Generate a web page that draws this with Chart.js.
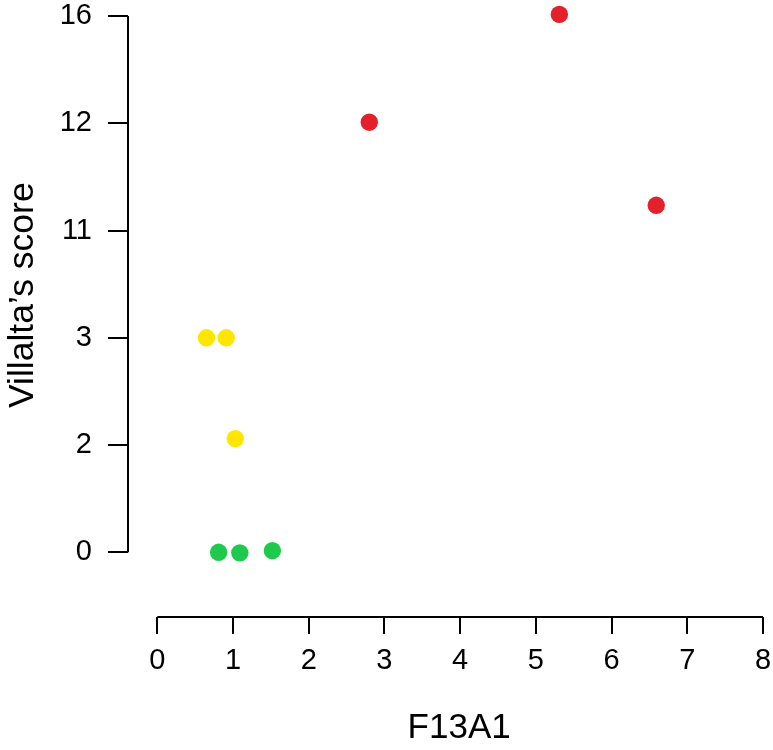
<!DOCTYPE html>
<html>
<head>
<meta charset="utf-8">
<script src="https://cdn.jsdelivr.net/npm/chart.js@4/dist/chart.umd.min.js"></script>
<style>
  body { margin: 0; background: #fff; }
  #wrap { width: 773px; height: 750px; }
</style>
</head>
<body>
<div id="wrap"><canvas id="myChart"></canvas></div>
<script>
'use strict';
// ---------- Data ------------- //
// y axis is ordinal: the score labels sit at equal steps (position 0..5)
let yTickLabels = ['0', '2', '3', '11', '12', '16'];
let xTicks = [0, 1, 2, 3, 4, 5, 6, 7, 8];
let xTitle = 'F13A1';
let yTitle = 'Villalta\u2019s score';

// green group
let greenX = [0.81, 1.09, 1.52];
let greenY = [0, -0.005, 0.015];
// yellow group
let yellowX = [0.65, 0.91, 1.03];
let yellowY = [2.0, 2.0, 1.06];
// red group
let redX = [2.80, 5.31, 6.59];
let redY = [4.01, 5.015, 3.235];

function toPoints(xs, ys){
    let pts = [];
    for (let i = 0; i < xs.length; i++){
        pts.push({x: xs[i], y: ys[i]});
    }
    return pts;
}

let fontFamily = "'Liberation Sans', Arial, sans-serif";
let tickFont = {family: fontFamily, size: 29};

// ---------- R-style detached axis lines + axis titles ------------- //
let axisLines = {
    id: 'axisLines',
    afterDraw(chart){
        let ctx = chart.ctx;
        let xs = chart.scales.x;
        let ys = chart.scales.y;
        let x0 = xs.getPixelForValue(xTicks[0]);
        let x1 = xs.getPixelForValue(xTicks[xTicks.length - 1]);
        let y0 = ys.getPixelForValue(0);
        let y1 = ys.getPixelForValue(yTickLabels.length - 1);
        ctx.save();
        ctx.strokeStyle = '#000';
        ctx.lineWidth = 2;
        ctx.beginPath();
        ctx.moveTo(x0, xs.top);
        ctx.lineTo(x1, xs.top);
        ctx.moveTo(ys.right, y0);
        ctx.lineTo(ys.right, y1);
        ctx.stroke();

        // titles, centred like R does on the axis span
        ctx.fillStyle = '#000';
        ctx.font = '35px ' + fontFamily;
        ctx.textAlign = 'center';
        ctx.textBaseline = 'alphabetic';
        ctx.fillText(xTitle, (x0 + x1) / 2 - 1, xs.bottom - 12);
        ctx.translate(33, (y0 + y1) / 2 + 11);
        ctx.rotate(-Math.PI / 2);
        ctx.font = '35.5px ' + fontFamily;
        ctx.fillText(yTitle, 0, 0);
        ctx.restore();
    }
};

function noEdgePadding(scale){
    scale.paddingTop = 0;
    scale.paddingBottom = 0;
    scale.paddingLeft = 0;
    scale.paddingRight = 0;
}

let chartObject = {
    type: 'scatter',
    data: {
        datasets: [
            {data: toPoints(greenX, greenY), backgroundColor: '#1fc94b', pointRadius: 8.7, borderWidth: 0, clip: false},
            {data: toPoints(yellowX, yellowY), backgroundColor: '#ffe600', pointRadius: 8.7, borderWidth: 0, clip: false},
            {data: toPoints(redX, redY), backgroundColor: '#e4202a', pointRadius: 8.7, borderWidth: 0, clip: false}
        ]
    },
    options: {
        responsive: true,
        maintainAspectRatio: false,
        animation: false,
        layout: {padding: {top: 16, right: 10, left: 0, bottom: 0}},
        plugins: {legend: {display: false}, tooltip: {enabled: false}},
        scales: {
            x: {
                type: 'linear',
                min: -0.387,
                max: 8,
                afterBuildTicks: function(scale){
                    scale.ticks = xTicks.map(v => ({value: v}));
                },
                afterFit: function(scale){ scale.height = 133; noEdgePadding(scale); },
                border: {display: false},
                grid: {drawOnChartArea: false, drawTicks: true, tickLength: 17, color: '#000', lineWidth: 2},
                ticks: {color: '#000', font: tickFont, padding: 10, maxRotation: 0,
                    callback: function(v){ return String(v); }}
            },
            y: {
                type: 'linear',
                min: -0.603,
                max: 5,
                afterBuildTicks: function(scale){
                    scale.ticks = yTickLabels.map((l, i) => ({value: i}));
                },
                afterFit: function(scale){ scale.width = 128; noEdgePadding(scale); },
                border: {display: false},
                grid: {drawOnChartArea: false, drawTicks: true, tickLength: 20, color: '#000', lineWidth: 2},
                ticks: {color: '#000', font: tickFont, padding: 16,
                    callback: function(v){ return yTickLabels[v]; }}
            }
        }
    },
    plugins: [axisLines]
};

let ctx = document.getElementById('myChart').getContext('2d');
let myChart = new Chart(ctx, chartObject);
</script>
</body>
</html>
